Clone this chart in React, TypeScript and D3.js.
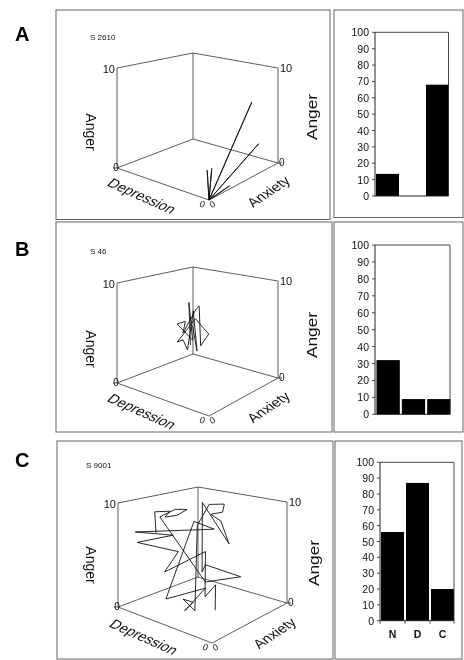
import React from "react";
import * as d3 from "d3";

// ---------- data ----------
const panelLetters = ["A", "B", "C"];
const subjectLabels = ["S 2610", "S 46", "S 9001"];
const cubeAxisTicks = [0, 10];
const barCategories = ["N", "D", "C"];
const barValuesA = [13.5, 0, 68];
const barValuesB = [32, 9, 9];
const barValuesC = [56, 87, 20];
const barTicks = [0, 10, 20, 30, 40, 50, 60, 70, 80, 90, 100];

// trajectories: [depression, anxiety, anger]
type P3 = [number, number, number];
const trajA: P3[] = [
  [0, 0, 0], [0, 6.2, 7.5], [0, 0, 0], [0, 7.2, 3.0], [0, 0, 0], [0.2, 0, 2.7],
  [0, 0, 0], [0, 0.4, 2.8], [0, 0, 0], [0, 3, 0.3], [0.3, 2.6, 0], [0, 0, 0],
];
const trajB: P3[] = [
  [6, 5.0, 3.6], [6, 4.8, 8.0], [6, 5.3, 4.0], [6, 3.2, 6.2], [6, 4.3, 6.2], [6, 4.0, 5.1],
  [6, 5.8, 7.1], [6, 6.2, 7.3], [6, 6.4, 3.1], [6, 7.5, 4.0], [6, 5.7, 6.1], [6, 3.2, 4.4],
  [6, 4.0, 4.4], [6, 4.6, 3.2], [6, 5.4, 7.0], [6, 5.9, 2.7], [6, 5.3, 5.5],
];
const trajC: P3[] = [
  [7.8, 2.2, 7.3], [8.8, 3.2, 8.9], [7.9, 4.1, 9.0], [8.2, 3.8, 8.4], [7.5, 4.5, 8.6],
  [6.9, 5.1, 9.2], [7.6, 4.4, 9.2], [8.5, 3.5, 8.4], [4.9, 5.1, 2.5], [2.8, 7.2, 2.9],
  [4.9, 5.1, 4.2], [5.1, 4.9, 3.5], [6.0, 6.0, 9.9], [3.5, 6.5, 6.2], [4.9, 7.1, 8.0],
  [5.5, 6.5, 8.7], [4.8, 7.2, 8.9], [4.7, 7.3, 9.7], [5.6, 6.4, 9.7], [6.3, 5.7, 7.6],
  [3.7, 2.3, 1.0], [4.4, 1.6, 2.1], [3.8, 2.2, 1.8], [4.3, 1.7, 1.0], [4.9, 5.1, 1.9],
  [5.4, 0.6, 2.1], [6.5, 5.5, 8.0], [5.3, 6.7, 7.2], [9.0, 1.0, 7.3], [6.8, 3.2, 7.1],
  [8.9, 1.1, 6.3], [6.5, 3.5, 5.5], [7.3, 2.7, 3.5], [4.9, 5.1, 5.5], [3.1, 2.9, 2.3],
  [4.3, 5.7, 2.2], [2.5, 3.5, 1.0],
];

const trajectories = [trajA, trajB, trajC];
const barValues = [barValuesA, barValuesB, barValuesC];

// ---------- layout ----------
type Cube = {
  F: [number, number]; L: [number, number]; R: [number, number]; B: [number, number];
  hF: number; hL: number; hR: number; hB: number;
};
type Layout = {
  left: [number, number, number, number];
  right: [number, number, number, number];
  letterY: number;
  subj: [number, number];
  cube: Cube;
  angerL: [number, number];
  angerR: [number, number];
  bar: { x0: number; x1: number; y0: number; y1: number; bx0: number; bx1: number; cats: boolean };
};

const layouts: Layout[] = [
  {
    left: [56, 10, 330, 219.5], right: [334, 10, 463, 217.5], letterY: 41, subj: [90, 40],
    cube: { F: [209, 200], L: [117, 168], R: [278, 163], B: [193, 139], hF: 108, hL: 100, hR: 95, hB: 86 },
    angerL: [91, 132], angerR: [311, 117],
    bar: { x0: 375, x1: 448.5, y0: 32.3, y1: 196, bx0: 376, bx1: 449, cats: false },
  },
  {
    left: [56, 222, 332, 432], right: [334, 222, 463, 432], letterY: 256, subj: [90, 254],
    cube: { F: [209, 416], L: [117, 383], R: [278, 378], B: [193, 354], hF: 109, hL: 100, hR: 97, hB: 87 },
    angerL: [91, 349], angerR: [311, 335],
    bar: { x0: 375, x1: 450, y0: 245, y1: 414.3, bx0: 376.5, bx1: 450.5, cats: false },
  },
  {
    left: [57, 441, 333, 659], right: [335, 441, 462, 659], letterY: 467, subj: [86, 468],
    cube: { F: [212, 643], L: [118, 607], R: [287, 603], B: [198, 577], hF: 112, hL: 104, hR: 101, hB: 90 },
    angerL: [91, 565], angerR: [313, 563],
    bar: { x0: 380, x1: 454, y0: 462.3, y1: 620.7, bx0: 381, bx1: 454, cats: true },
  },
];

const FONT = "'Liberation Sans', Arial, Helvetica, sans-serif";
const unit = d3.scaleLinear().domain([cubeAxisTicks[0], cubeAxisTicks[1]]).range([0, 1]);

function projector(c: Cube) {
  return (p: P3): [number, number] => {
    const u = unit(p[0]), v = unit(p[1]), w = unit(p[2]);
    const wF = (1 - u) * (1 - v), wL = u * (1 - v), wR = (1 - u) * v, wB = u * v;
    const x = wF * c.F[0] + wL * c.L[0] + wR * c.R[0] + wB * c.B[0];
    const yf = wF * c.F[1] + wL * c.L[1] + wR * c.R[1] + wB * c.B[1];
    const h = wF * c.hF + wL * c.hL + wR * c.hR + wB * c.hB;
    return [x, yf - w * h];
  };
}

function Cube3D({ idx }: { idx: number }) {
  const lay = layouts[idx];
  const c = lay.cube;
  const proj = projector(c);
  const lo = cubeAxisTicks[0], hi = cubeAxisTicks[1];
  const F = proj([lo, lo, lo]);
  const L = proj([hi, lo, lo]);
  const R = proj([lo, hi, lo]);
  const B = proj([hi, hi, lo]);
  const Lt = proj([hi, lo, hi]);
  const Rt = proj([lo, hi, hi]);
  const Bt = proj([hi, hi, hi]);
  const edge = (a: [number, number], b: [number, number], k: string) => (
    <line key={k} x1={a[0]} y1={a[1]} x2={b[0]} y2={b[1]} stroke="#333" strokeWidth={0.8} />
  );
  const line = d3.line();
  const path = line(trajectories[idx].map(proj)) || "";
  const depMid = [(F[0] + L[0]) / 2 - 21, (F[1] + L[1]) / 2 + 12];
  const anxMid = [(F[0] + R[0]) / 2 + 25, (F[1] + R[1]) / 2 + 10];
  return (
    <g fontFamily={FONT} fill="#111">
      {edge(F, L, "fl")}
      {edge(F, R, "fr")}
      {edge(L, B, "lb")}
      {edge(B, R, "br")}
      {edge(L, Lt, "ll")}
      {edge(B, Bt, "bb")}
      {edge(R, Rt, "rr")}
      {edge(Lt, Bt, "lt")}
      {edge(Bt, Rt, "rt")}
      <path d={path} fill="none" stroke="#111" strokeWidth={0.9} strokeLinejoin="miter" />
      <text x={Lt[0] - 2} y={Lt[1] + 5} fontSize={11} textAnchor="end">{hi}</text>
      <text x={Rt[0] + 2} y={Rt[1] + 4} fontSize={11}>{hi}</text>
      <line x1={L[0] - 4} y1={L[1]} x2={L[0]} y2={L[1]} stroke="#333" strokeWidth={0.8} />
      <text x={L[0] - 1} y={L[1] + 3} fontSize={10} textAnchor="middle">{lo}</text>
      <line x1={R[0]} y1={R[1]} x2={R[0] + 4} y2={R[1]} stroke="#333" strokeWidth={0.8} />
      <text x={R[0] + 1} y={R[1] + 3} fontSize={10}>{lo}</text>
      <text transform={`translate(${F[0] - 8},${F[1] + 7}) rotate(25)`} fontSize={9} textAnchor="middle">{lo}</text>
      <text transform={`translate(${F[0] + 5},${F[1] + 7}) rotate(-30)`} fontSize={9} textAnchor="middle">{lo}</text>
      <text transform={`translate(${lay.angerL[0]},${lay.angerL[1]}) rotate(90)`} fontSize={14}
        textAnchor="middle" dominantBaseline="central">Anger</text>
      <text transform={`translate(${lay.angerR[0]},${lay.angerR[1]}) rotate(-90)`} fontSize={15}
        textAnchor="middle" dominantBaseline="central" textLength={46} lengthAdjust="spacingAndGlyphs">Anger</text>
      <text transform={`translate(${depMid[0]},${depMid[1]}) rotate(24) skewX(-20)`} fontSize={14}
        textAnchor="middle" dominantBaseline="central">Depression</text>
      <text transform={`translate(${anxMid[0]},${anxMid[1]}) rotate(-34) skewX(15)`} fontSize={14}
        textAnchor="middle" dominantBaseline="central">Anxiety</text>
    </g>
  );
}

function Bars({ idx }: { idx: number }) {
  const b = layouts[idx].bar;
  const vals = barValues[idx];
  const x = d3.scaleBand<string>().domain(barCategories).range([b.bx0, b.bx1]).paddingInner(0.08).paddingOuter(0);
  const y = d3.scaleLinear().domain([0, 100]).range([b.y1, b.y0]);
  return (
    <g fontFamily={FONT} fill="#111">
      {barCategories.map((cat, i) =>
        vals[i] > 0 ? (
          <rect key={cat} x={x(cat)} y={y(vals[i])} width={x.bandwidth()} height={y(0) - y(vals[i])} fill="#000" />
        ) : null
      )}
      <line x1={b.x0} y1={b.y0} x2={b.x1} y2={b.y0} stroke="#333" strokeWidth={0.9} />
      <line x1={b.x1} y1={b.y0} x2={b.x1} y2={b.y1} stroke="#333" strokeWidth={0.9} />
      <line x1={b.x0} y1={b.y0} x2={b.x0} y2={b.y1} stroke="#222" strokeWidth={1} />
      <line x1={b.x0} y1={b.y1} x2={b.x1} y2={b.y1} stroke="#222" strokeWidth={1} />
      {barTicks.map((t) => (
        <g key={t}>
          <line x1={b.x0 - 3} y1={y(t)} x2={b.x0} y2={y(t)} stroke="#222" strokeWidth={0.8} />
          <text x={b.x0 - 6} y={y(t)} fontSize={10.5} textAnchor="end" dominantBaseline="central">{t}</text>
        </g>
      ))}
      {b.cats &&
        barCategories.map((cat) => (
          <g key={cat}>
            <line x1={(x(cat) || 0) - 1} y1={b.y1} x2={(x(cat) || 0) - 1} y2={b.y1 + 3} stroke="#222" strokeWidth={0.8} />
            <text x={(x(cat) || 0) + x.bandwidth() / 2} y={b.y1 + 17} fontSize={10.5} fontWeight="bold" textAnchor="middle">{cat}</text>
          </g>
        ))}
      {b.cats && <line x1={b.x1} y1={b.y1} x2={b.x1} y2={b.y1 + 3} stroke="#222" strokeWidth={0.8} />}
    </g>
  );
}

export default function App() {
  return (
    <svg width={464} height={660}
      style={{ position: "absolute", left: 0, top: 0, background: "#fff", filter: "grayscale(1)" }}>
      <rect x={0} y={0} width={464} height={660} fill="#fff" />
      {layouts.map((lay, i) => (
        <g key={i}>
          <rect x={lay.left[0]} y={lay.left[1]} width={lay.left[2] - lay.left[0]} height={lay.left[3] - lay.left[1]}
            fill="none" stroke="#666" strokeWidth={1} />
          <rect x={lay.right[0]} y={lay.right[1]} width={lay.right[2] - lay.right[0]} height={lay.right[3] - lay.right[1]}
            fill="none" stroke="#666" strokeWidth={1} />
          <text x={15} y={lay.letterY} fontFamily={FONT} fontWeight="bold" fontSize={20} fill="#000">{panelLetters[i]}</text>
          <text x={lay.subj[0]} y={lay.subj[1]} fontFamily={FONT} fontSize={8} fill="#111">{subjectLabels[i]}</text>
          <Cube3D idx={i} />
          <Bars idx={i} />
        </g>
      ))}
    </svg>
  );
}
